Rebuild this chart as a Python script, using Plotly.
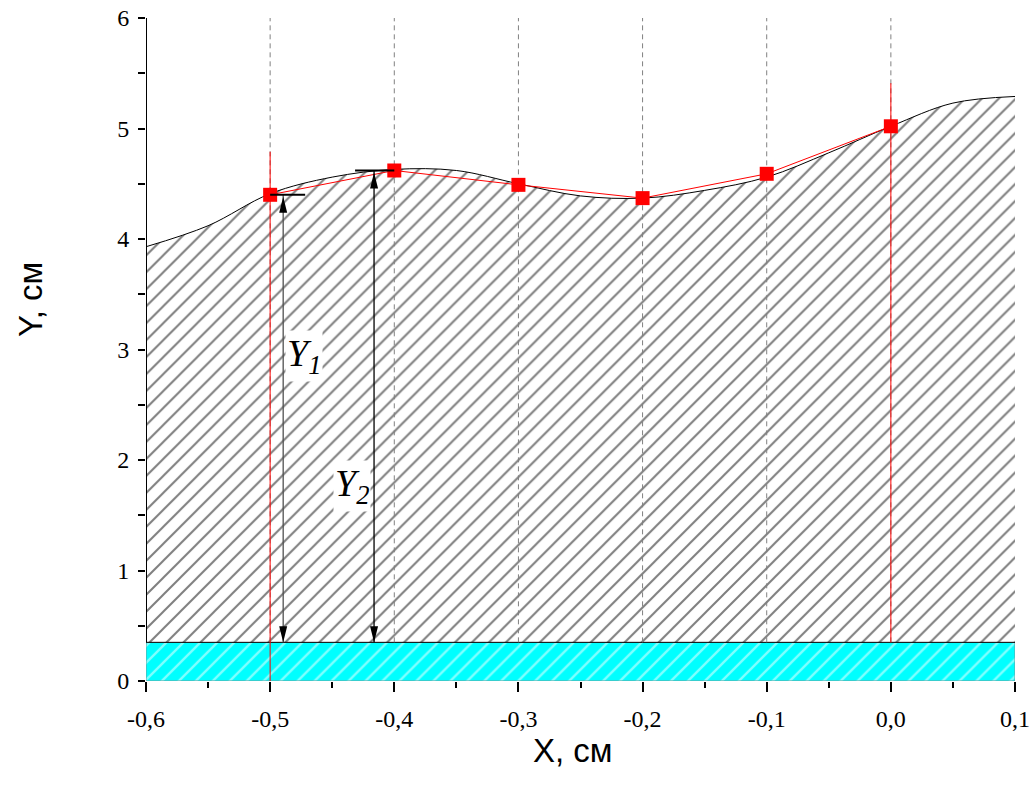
import plotly.graph_objects as go

# Interface profile Y(X), cm
profile_x = [-0.6, -0.55, -0.5, -0.45, -0.4, -0.35, -0.3, -0.25, -0.2, -0.15, -0.1, -0.05, 0.0, 0.05, 0.1]
profile_y = [3.93, 4.12, 4.41, 4.56, 4.63, 4.62, 4.50, 4.39, 4.37, 4.44, 4.56, 4.78, 5.02, 5.23, 5.29]

# Measured points, cm
meas_x = [-0.5, -0.4, -0.3, -0.2, -0.1, 0.0]
meas_y = [4.40, 4.62, 4.49, 4.37, 4.59, 5.02]

# Substrate layer
substrate_top = 0.35
x_min, x_max = -0.6, 0.1
y_min, y_max = 0.0, 6.0

# Solid red reference verticals
red_x = [-0.5, 0.0]
red_y0 = [0.0, 0.35]
red_y1 = [4.79, 5.41]

# Height dimensions Y1, Y2
dim_text = ["<i>Y</i><sub><i>1</i></sub>", "<i>Y</i><sub><i>2</i></sub>"]
dim_x = [-0.4895, -0.4163]
dim_top = [4.40, 4.62]
dim_color = ["#505050", "black"]
bar_x0 = [-0.5, -0.4316]
bar_x1 = [-0.4718, -0.40]
label_x = [-0.4727, -0.434]
label_y = [2.94, 1.765]

# Axis ticks
x_ticks = [-0.6, -0.5, -0.4, -0.3, -0.2, -0.1, 0.0, 0.1]
x_tick_text = ["-0,6", "-0,5", "-0,4", "-0,3", "-0,2", "-0,1", "0,0", "0,1"]
y_ticks = [0, 1, 2, 3, 4, 5, 6]
y_tick_text = ["0", "1", "2", "3", "4", "5", "6"]

SERIF = "Liberation Serif, Times New Roman, serif"
SANS = "Liberation Sans, Arial, sans-serif"

fig = go.Figure()

# Substrate band (cyan, white hatching)
fig.add_trace(go.Scatter(
    x=[x_min, x_max, x_max, x_min, x_min],
    y=[y_min, y_min, substrate_top, substrate_top, y_min],
    mode="lines", fill="toself",
    line=dict(color="#6f9c9c", width=1),
    fillcolor="#00ffff",
    fillpattern=dict(shape="/", size=12, solidity=0.2, fgcolor="white", bgcolor="#00ffff"),
    hoverinfo="skip", showlegend=False,
))

# Base line of the hatched layer
fig.add_trace(go.Scatter(
    x=[x_min, x_max], y=[substrate_top, substrate_top],
    mode="lines", line=dict(color="black", width=1),
    hoverinfo="skip", showlegend=False,
))

# Hatched layer bounded by the profile
fig.add_trace(go.Scatter(
    x=profile_x, y=profile_y,
    mode="lines", line=dict(color="black", width=1, shape="spline", smoothing=1.0),
    fill="tonexty", fillcolor="white",
    fillpattern=dict(shape="/", size=12, solidity=0.17, fgcolor="black", bgcolor="white"),
    hoverinfo="skip", showlegend=False,
))

# Dashed grid verticals at the measured positions
for xv in meas_x:
    fig.add_trace(go.Scatter(
        x=[xv, xv], y=[substrate_top, y_max],
        mode="lines", line=dict(color="#808080", width=1, dash="5px,4px"),
        hoverinfo="skip", showlegend=False,
    ))

# Solid red verticals
for xv, y0, y1 in zip(red_x, red_y0, red_y1):
    fig.add_trace(go.Scatter(
        x=[xv, xv], y=[y0, y1],
        mode="lines", line=dict(color="red", width=1),
        hoverinfo="skip", showlegend=False,
    ))

# Measured points
fig.add_trace(go.Scatter(
    x=meas_x, y=meas_y,
    mode="lines+markers",
    line=dict(color="red", width=1),
    marker=dict(symbol="square", size=14, color="red", line=dict(width=0)),
    hoverinfo="skip", showlegend=False,
))

shapes = []
# Left axis line above the hatched layer
shapes.append(dict(type="line", xref="x", yref="y", x0=x_min, x1=x_min,
                   y0=substrate_top, y1=y_max, line=dict(color="black", width=2), layer="above"))

for xv, top, col, bx0, bx1 in zip(dim_x, dim_top, dim_color, bar_x0, bar_x1):
    # shaft
    shapes.append(dict(type="line", xref="x", yref="y", x0=xv, x1=xv,
                       y0=substrate_top, y1=top, line=dict(color=col, width=1.3), layer="above"))
    # top bar
    shapes.append(dict(type="line", xref="x", yref="y", x0=bx0, x1=bx1,
                       y0=top, y1=top, line=dict(color="black", width=2), layer="above"))
    # arrow heads
    shapes.append(dict(type="path", xref="x", yref="y", xsizemode="pixel", ysizemode="pixel",
                       xanchor=xv, yanchor=top, path="M0,-2L-4,-18L4,-18Z",
                       fillcolor="black", line=dict(width=0), layer="above"))
    shapes.append(dict(type="path", xref="x", yref="y", xsizemode="pixel", ysizemode="pixel",
                       xanchor=xv, yanchor=substrate_top, path="M0,0L-4,16L4,16Z",
                       fillcolor="black", line=dict(width=0), layer="above"))

annotations = []
for txt, lx, ly in zip(dim_text, label_x, label_y):
    annotations.append(dict(x=lx, y=ly, xref="x", yref="y", text=txt, showarrow=False,
                            xanchor="center", yanchor="middle",
                            font=dict(family=SERIF, size=38, color="black"),
                            bgcolor="white", borderpad=1))

# Axis titles (positions given in pixels, converted to paper coordinates)
plot_l, plot_r, plot_t, plot_b = 146, 15, 18, 111
pw, ph = 1030 - plot_l - plot_r, 792 - plot_t - plot_b
title_specs = [("X, см", 573, 750, 0), ("Y, см", 30, 300, -90)]
for txt, px, py, ang in title_specs:
    annotations.append(dict(x=(px - plot_l) / pw, y=(792 - py - plot_b) / ph,
                            xref="paper", yref="paper", text=txt, showarrow=False,
                            xanchor="center", yanchor="middle", textangle=ang,
                            font=dict(family=SANS, size=33, color="black")))

fig.update_layout(
    width=1030, height=792,
    margin=dict(l=plot_l, r=plot_r, t=plot_t, b=plot_b, autoexpand=False),
    paper_bgcolor="white", plot_bgcolor="white",
    shapes=shapes, annotations=annotations,
    xaxis=dict(range=[x_min, x_max], showgrid=False, zeroline=False, showline=False,
               automargin=False,
               tickvals=x_ticks, ticktext=x_tick_text, ticks="outside", ticklen=10,
               tickwidth=2, tickcolor="black", ticklabelstandoff=6,
               tickfont=dict(family=SERIF, size=24, color="black"),
               minor=dict(dtick=0.05, tick0=0, ticks="outside", ticklen=6, tickwidth=2,
                          tickcolor="black", showgrid=False)),
    yaxis=dict(range=[y_min, y_max], showgrid=False, zeroline=False, showline=False,
               automargin=False,
               tickvals=y_ticks, ticktext=y_tick_text, ticks="outside", ticklen=7,
               tickwidth=2, tickcolor="black", ticklabelstandoff=4,
               tickfont=dict(family=SERIF, size=24, color="black"),
               minor=dict(dtick=0.5, tick0=0, ticks="outside", ticklen=7, tickwidth=2,
                          tickcolor="black", showgrid=False)),
)

fig.write_html("out.html")
